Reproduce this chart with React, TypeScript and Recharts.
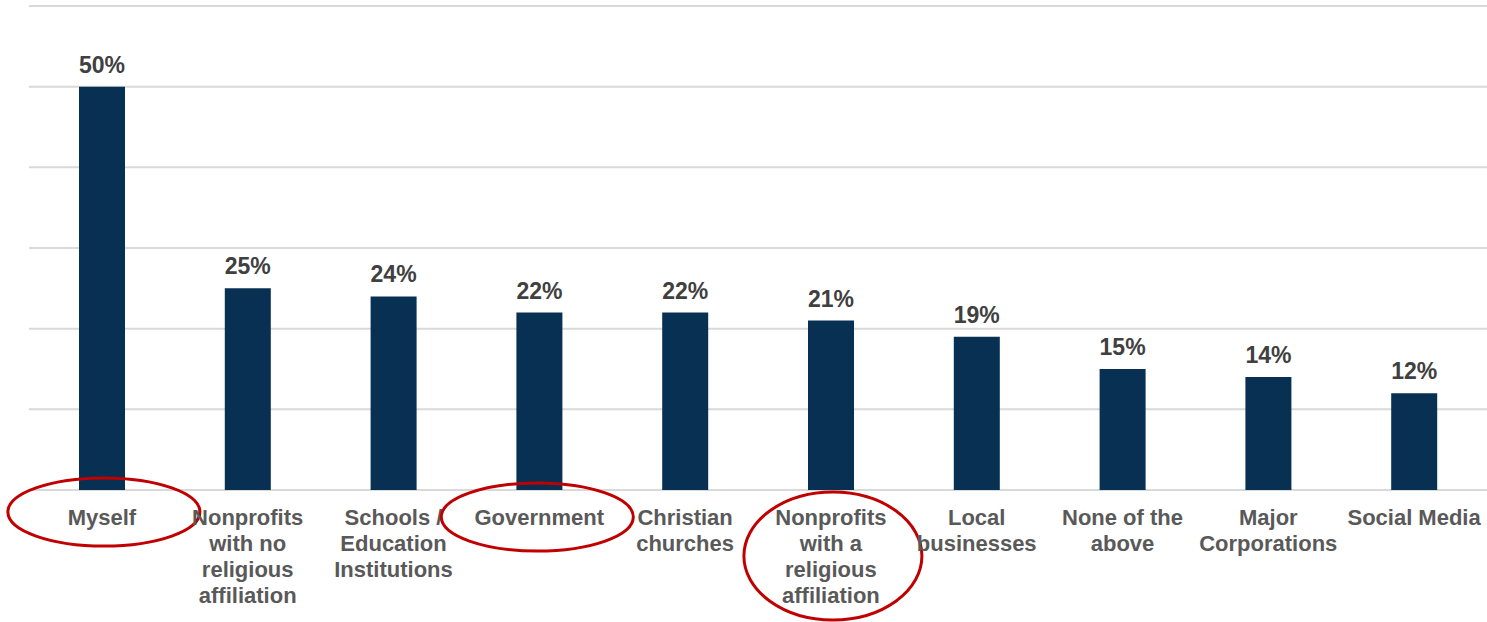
import React from 'react';
import { BarChart, Bar, XAxis, YAxis, CartesianGrid, LabelList } from 'recharts';

// categories, with the line breaks used in the axis labels
const categories = [
  'Myself',
  'Nonprofits\nwith no\nreligious\naffiliation',
  'Schools /\nEducation\nInstitutions',
  'Government',
  'Christian\nchurches',
  'Nonprofits\nwith a\nreligious\naffiliation',
  'Local\nbusinesses',
  'None of the\nabove',
  'Major\nCorporations',
  'Social Media',
];
const values = [50, 25, 24, 22, 22, 21, 19, 15, 14, 12];
const yTicks = [0, 10, 20, 30, 40, 50, 60];

// categories circled in red (hand-drawn ellipse offsets relative to the label block)
const highlighted: Record<string, { dx: number; dy: number; rx: number; ry: number }> = {
  'Myself': { dx: 2, dy: -5, rx: 96, ry: 34 },
  'Government': { dx: -2, dy: 0, rx: 96, ry: 34 },
  'Nonprofits\nwith a\nreligious\naffiliation': { dx: 2, dy: 0, rx: 89, ry: 64 },
};

const data = categories.map((name, i) => ({ name, value: values[i] }));

const FONT = '"Liberation Sans", Arial, sans-serif';
const LINE_H = 26;

const CategoryTick = (props: any) => {
  const { x, y, payload } = props;
  const lines: string[] = String(payload.value).split('\n');
  const firstBase = y + 27;
  const hi = highlighted[payload.value];
  const midY = firstBase - 8 + ((lines.length - 1) * LINE_H) / 2;
  return (
    <g>
      <text
        x={x}
        y={firstBase}
        textAnchor="middle"
        fill="#595959"
        fontFamily={FONT}
        fontWeight="bold"
        fontSize={22}
      >
        {lines.map((l, i) => (
          <tspan key={i} x={x} dy={i === 0 ? 0 : LINE_H}>
            {l}
          </tspan>
        ))}
      </text>
      {hi && (
        <ellipse
          cx={x + hi.dx}
          cy={midY + hi.dy}
          rx={hi.rx}
          ry={hi.ry}
          fill="none"
          stroke="#c00000"
          strokeWidth={3}
        />
      )}
    </g>
  );
};

export default function App() {
  return (
    <div style={{ position: 'absolute', left: 0, top: 0, background: '#fff' }}>
      <BarChart
        width={1487}
        height={622}
        data={data}
        margin={{ top: 6, right: 0, left: 29, bottom: 0 }}
        barCategoryGap={0}
      >
        <CartesianGrid vertical={false} stroke="#d9d9d9" strokeWidth={2} />
        <YAxis hide domain={[0, 60]} ticks={yTicks} />
        <XAxis
          dataKey="name"
          axisLine={false}
          tickLine={false}
          interval={0}
          height={132}
          tick={<CategoryTick />}
        />
        <Bar dataKey="value" fill="#073052" barSize={46} isAnimationActive={false}>
          <LabelList
            dataKey="value"
            position="top"
            offset={14}
            formatter={(v: any) => `${v}%`}
            style={{ fill: '#404040', fontFamily: FONT, fontWeight: 'bold', fontSize: 23 }}
          />
        </Bar>
      </BarChart>
    </div>
  );
}
